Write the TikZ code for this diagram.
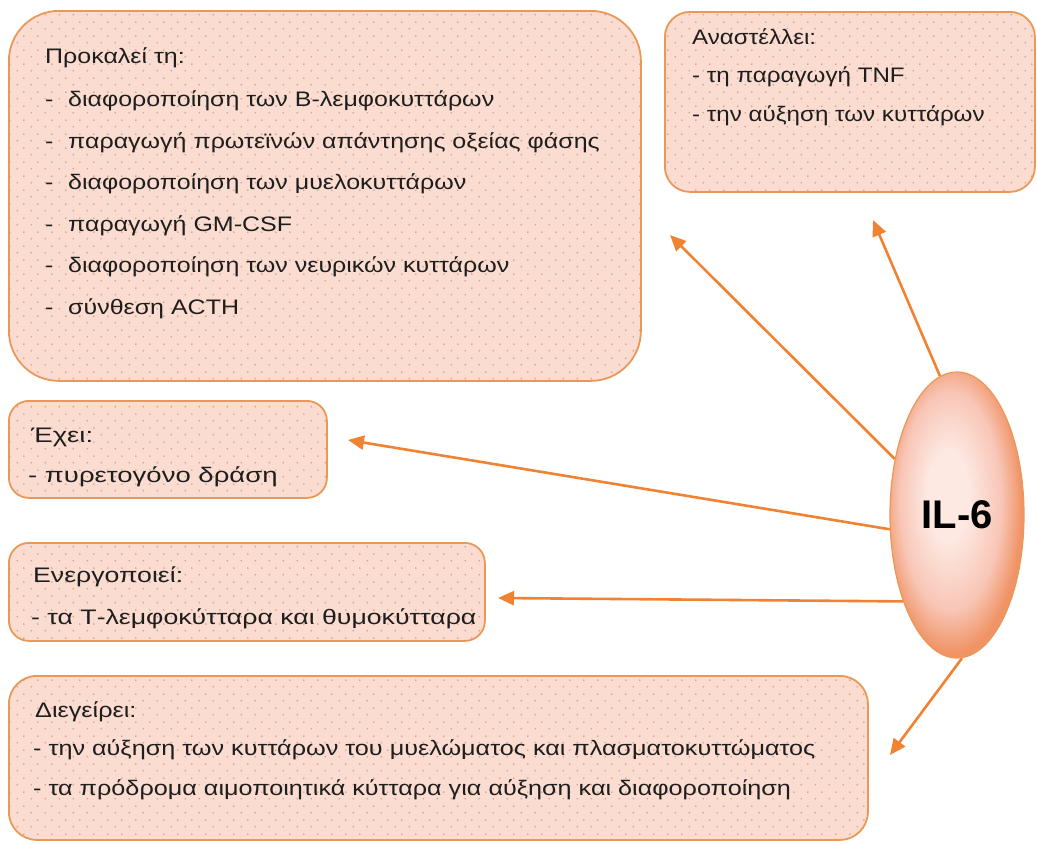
\documentclass[tikz,border=0pt]{standalone}
\usepackage{fontspec}
\setmainfont{Liberation Sans}
\newfontfamily\fbig[FakeStretch=1.19]{Liberation Sans}
\newfontfamily\ftr[FakeStretch=1.15]{Liberation Sans}
\newfontfamily\feh[FakeStretch=1.31]{Liberation Sans}
\newfontfamily\fen[FakeStretch=1.27]{Liberation Sans}
\newfontfamily\fdi[FakeStretch=1.20]{Liberation Sans}
\usetikzlibrary{arrows.meta,shapes.geometric,patterns.meta,backgrounds}
\definecolor{boxfill}{RGB}{251,220,208}
\definecolor{dotc}{RGB}{218,160,140}
\definecolor{boxline}{RGB}{234,152,88}
\definecolor{arrowc}{RGB}{240,130,50}
\definecolor{ilin}{RGB}{253,232,226}
\definecolor{ilmid}{RGB}{248,198,182}
\definecolor{ilout}{RGB}{240,148,102}
\definecolor{textc}{RGB}{30,30,30}
\pgfdeclareradialshading{ilshade}{\pgfpoint{-4bp}{4bp}}{%
  color(0bp)=(ilin); color(8bp)=(ilin); color(19bp)=(ilmid); color(26bp)=(ilout); color(50bp)=(ilout)}
\tikzdeclarepattern{name=boxdots, type=uncolored,
  bounding box={(0pt,0pt) and (14pt,14pt)}, tile size={(14pt,14pt)},
  code={\fill (3.5pt,3.5pt) circle (1pt); \fill (10.5pt,10.5pt) circle (1pt);}}
\tikzset{
  box/.style={draw=boxline, line width=1.8pt, preaction={fill=boxfill},
    pattern={boxdots}, pattern color=dotc, rounded corners=#1,
    anchor=north west, inner sep=0pt},
  box/.default=20pt,
  txt/.style={anchor=base west, inner sep=0pt, text=textc,
    font=#1\fontsize{21pt}{25pt}\selectfont},
  arr/.style={draw=arrowc, line width=2.6pt, -{Triangle[length=16pt,width=14pt]}},
}
\begin{document}
\begin{tikzpicture}[x=1pt,y=-1pt]
\useasboundingbox (0,0) rectangle (1037,844);
% boxes
\node[box=50pt, minimum width=632pt, minimum height=370pt] (big) at (8,10) {};
\node[box=25pt, minimum width=370pt, minimum height=180pt] (tr) at (664,11) {};
\node[box=20pt, minimum width=318pt, minimum height=97pt] (eh) at (8,400) {};
\node[box=20pt, minimum width=476pt, minimum height=98pt] (en) at (8,542) {};
\node[box=28pt, minimum width=859pt, minimum height=164pt] (di) at (8,675) {};
% big box text
\node[txt=\fbig] (b0) at (45,63) {Προκαλεί τη:};
\node[txt=\fbig] (b1d) at (45,106) {-};
\node[txt=\fbig] (b1) at (68,106) {διαφοροποίηση των Β-λεμφοκυττάρων};
\node[txt=\fbig] (b2d) at (45,148) {-};
\node[txt=\fbig] (b2) at (68,148) {παραγωγή πρωτεϊνών απάντησης οξείας φάσης};
\node[txt=\fbig] (b3d) at (45,189) {-};
\node[txt=\fbig] (b3) at (68,189) {διαφοροποίηση των μυελοκυττάρων};
\node[txt=\fbig] (b4d) at (45,231) {-};
\node[txt=\fbig] (b4) at (68,231) {παραγωγή GM-CSF};
\node[txt=\fbig] (b5d) at (45,272) {-};
\node[txt=\fbig] (b5) at (68,272) {διαφοροποίηση των νευρικών κυττάρων};
\node[txt=\fbig] (b6d) at (45,314) {-};
\node[txt=\fbig] (b6) at (68,314) {σύνθεση ACTH};
% top right
\node[txt=\ftr] (t0) at (692,44) {Αναστέλλει:};
\node[txt=\ftr] (t1) at (692,82) {- τη παραγωγή TNF};
\node[txt=\ftr] (t2) at (692,121) {- την αύξηση των κυττάρων};
% Echei
\node[txt=\feh] (e0) at (31,442) {Έχει:};
\node[txt=\feh] (e1) at (28,482) {- πυρετογόνο δράση};
% Energopoiei
\node[txt=\fen] (n0) at (33,582) {Ενεργοποιεί:};
\node[txt=\fen] (n1) at (31,624) {- τα Τ-λεμφοκύτταρα και θυμοκύτταρα};
% Diegeirei
\node[txt=\fdi] (d0) at (35,717) {Διεγείρει:};
\node[txt=\fdi] (d1) at (33,755) {- την αύξηση των κυττάρων του μυελώματος και πλασματοκυττώματος};
\node[txt=\fdi] (d2) at (33,795) {- τα πρόδρομα αιμοποιητικά κύτταρα για αύξηση και διαφοροποίηση};
% IL-6
\node[ellipse, minimum width=134pt, minimum height=286pt, draw=boxline, line width=1.2pt,
  shading=ilshade, text=black,
  font=\bfseries\fontsize{40pt}{44pt}\selectfont] (il6) at (957,515) {IL-6};
% arrow tips
\coordinate (tA) at (670,235);
\coordinate (tB) at (873,220);
\coordinate (tC) at (348,440);
\coordinate (tD) at (498,598);
\coordinate (tE) at (890,755);
\begin{scope}[on background layer]
\draw[arr] (il6.97) -- (tB);
\draw[arr] (il6.138) -- (tA);
\draw[arr] (il6.192) -- (tC);
\draw[arr] (il6.238) -- (tD);
\draw[arr] (il6.272) -- (tE);
\end{scope}
\end{tikzpicture}
\end{document}
